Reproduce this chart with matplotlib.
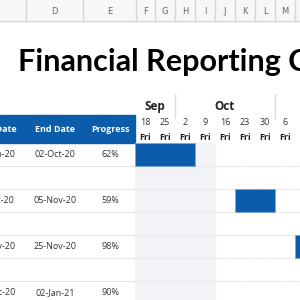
import matplotlib.pyplot as plt
from matplotlib.patches import Rectangle

plt.rcParams['font.family'] = ['Open Sans', 'DejaVu Sans']

# ---- data ----
title = 'Financial Reporting Calendar'
col_letters = ['D', 'E', 'F', 'G', 'H', 'I', 'J', 'K', 'L', 'M']
table_headers = ['Start Date', 'End Date', 'Progress']
start_dates = ['11-Sep-20', '16-Oct-20', '13-Nov-20', '11-Dec-20']
end_dates = ['02-Oct-20', '05-Nov-20', '25-Nov-20', '02-Jan-21']
progress = ['62%', '59%', '98%', '90%']
task_rows = [0, 2, 4, 6]          # spreadsheet rows (blank row between tasks)
bar_start = [0, 5, 8, 12]         # week index from 18-Sep
bar_weeks = [3, 2, 2, 3]
week_days = ['18', '25', '2', '9', '16', '23', '30', '6', '13']
months = ['Sep', 'Oct', 'Nov']
month_start = [0, 2, 7]           # week index where month begins
month_weeks = [2, 5, 4]
past_weeks = 4                    # shaded weeks

blue = '#0b5cab'
shade = '#f2f3f9'
grid = '#e3e3e3'

W = H = 300
fig = plt.figure(figsize=(3, 3), dpi=100)

# background axes in pixel units for sheet chrome + title
bg = fig.add_axes([0, 0, 1, 1])
bg.set_xlim(0, W)
bg.set_ylim(H, 0)
bg.axis('off')

# column letter strip
bg.add_patch(Rectangle((0, 0), W, 21, color='#f6f7f8', zorder=0))
bg.axhline(21, color='#d6d6d6', lw=1)
col_edges = [26, 83, 136, 155, 175, 195, 215, 235, 255, 275, 295, 315]
for e in col_edges:
    bg.plot([e, e], [0, 21], color='#d6d6d6', lw=1)
for i, c in enumerate(col_letters):
    bg.text((col_edges[i] + col_edges[i + 1]) / 2, 11, c, ha='center',
            va='center', fontsize=6, color='#666666', family='DejaVu Sans')

bg.text(18, 62, title, fontsize=22, fontweight='bold', ha='left',
        va='center', color='black', family=['Lato', 'DejaVu Sans'])

# ---- layout in row units ----
row_px = 23
top_px = 143
n_vis = (H - top_px) / row_px
y_top = 1 - top_px / H

# table axes
tab = fig.add_axes([0, 0, 135 / W, y_top])
tab.set_xlim(0, 135)
tab.set_ylim(n_vis, 0)
tab.axis('off')
hdr_h = (top_px - 115) / row_px
tab.add_patch(Rectangle((0, -hdr_h), 135, hdr_h, color=blue,
                        clip_on=False))
col_x = [-6, 55, 110]
for x, t in zip(col_x, table_headers):
    tab.text(x, -hdr_h / 2, t, color='white', fontsize=6.5,
             fontweight='bold', ha='center', va='center', clip_on=False)
for r, s, e, p in zip(task_rows, start_dates, end_dates, progress):
    for x, t in zip(col_x, [s, e, p]):
        tab.text(x, r + 0.5, t, fontsize=6.5, ha='center', va='center',
                 color='#333333')
for k in range(1, 7):
    tab.axhline(k, color=grid, lw=0.8)

# gantt axes (x in weeks)
gw = 20
gan = fig.add_axes([135 / W, 0, 165 / W, y_top])
gan.set_xlim(0, 165 / gw)
gan.set_ylim(n_vis, 0)
gan.axis('off')
gan.axvspan(0, past_weeks, color=shade, zorder=0)
for k in range(1, 7):
    gan.axhline(k, color=grid, lw=0.8, ls=(0, (2, 1)), zorder=1)
gan.barh([r + 0.5 for r in task_rows], bar_weeks, left=bar_start,
         height=1, color=blue, edgecolor='#7aa6d4', lw=0.6, zorder=2)

for i, d in enumerate(week_days):
    gan.text(i + 0.5, -0.91, d, fontsize=6.5, ha='center', va='center',
             color='#333333', clip_on=False)
    gan.text(i + 0.5, -0.26, 'Fri', fontsize=6.5, fontweight='bold',
             ha='center', va='center', color='#222222', clip_on=False)
for m, s, n in zip(months, month_start, month_weeks):
    gan.text(s + n / 2, -1.6, m, fontsize=8.5, fontweight='bold',
             ha='center', va='center', color='#222222', clip_on=False)
    if s > 0:
        gan.plot([s, s], [-2.15, -1.1], color='#dddddd', lw=1,
                 clip_on=False)

fig.savefig('out.png', dpi=100)
